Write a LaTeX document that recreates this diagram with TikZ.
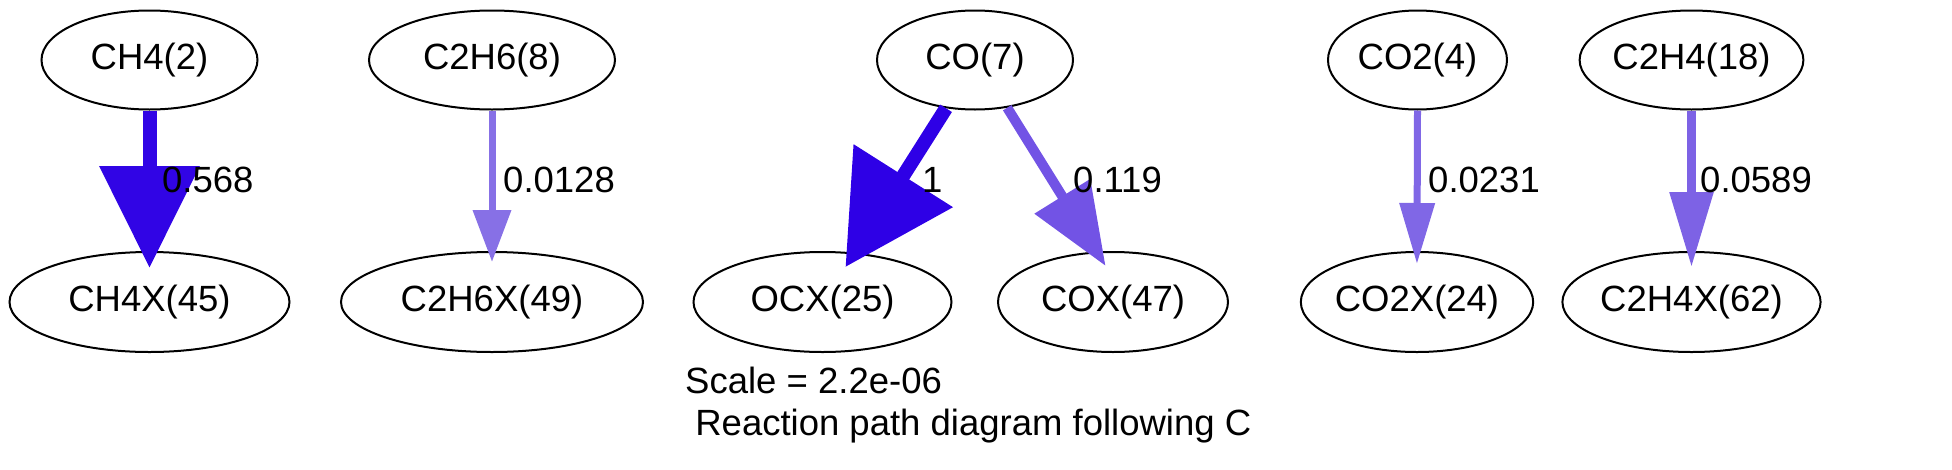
\documentclass[tikz,border=0pt]{standalone}
\usepackage{fontspec}
\setmainfont{Liberation Sans}
\usetikzlibrary{arrows.meta,shapes.geometric}
\definecolor{fa}{RGB}{46,0,230}
\definecolor{fb}{RGB}{49,4,229}
\definecolor{fc}{RGB}{135,112,230}
\definecolor{fd}{RGB}{128,103,230}
\definecolor{fe}{RGB}{125,98,229}
\definecolor{ff}{RGB}{114,83,229}
\tikzset{
  sp/.style={draw=black, line width=2pt, ellipse, inner sep=0pt, minimum height=99pt,
    font=\fontsize{36.5}{42}\selectfont},
  lbl/.style={anchor=west, inner sep=0pt, font=\fontsize{36.5}{42}\selectfont},
  flux/.style={draw=#1, fill=#1},
}
\begin{document}
\begin{tikzpicture}[x=1pt,y=-1pt]
\useasboundingbox (0,0) rectangle (1952,469);
% species
\node[sp, minimum width=216pt] (ch4) at (149.5,60) {CH4(2)};
\node[sp, minimum width=280pt, minimum height=100pt] (ch4x) at (149.5,302) {CH4X(45)};
\node[sp, minimum width=246pt] (c2h6) at (492,60) {C2H6(8)};
\node[sp, minimum width=302pt, minimum height=100pt] (c2h6x) at (492,302) {C2H6X(49)};
\node[sp, minimum width=196pt] (co) at (975,60) {CO(7)};
\node[sp, minimum width=258pt, minimum height=100pt] (ocx) at (822.5,302) {OCX(25)};
\node[sp, minimum width=230pt, minimum height=100pt] (cox) at (1113,302) {COX(47)};
\node[sp, minimum width=179pt] (co2) at (1417.5,60) {CO2(4)};
\node[sp, minimum width=226pt, minimum height=100pt] (co2x) at (1417,302) {CO2X(24)};
\node[sp, minimum width=219pt] (c2h4) at (1691.5,60) {C2H4(18)};
\node[sp, minimum width=245pt, minimum height=100pt] (c2h4x) at (1691.5,302) {C2H4X(62)};
% fluxes
\draw[flux=fb, line width=14pt, -{Triangle[length=102pt,width=97pt]}, shorten >=-17pt] (ch4.south) -- (ch4x.north);
\draw[flux=fc, line width=7pt, -{Triangle[length=52pt,width=37pt]}, shorten >=-11pt] (c2h6.south) -- (c2h6x.north);
\draw[flux=fa, line width=14pt, -{Triangle[length=108pt,width=114pt]}, shorten >=-17pt] (co.239) -- (ocx.57.6);
\draw[flux=ff, line width=10pt, -{Triangle[length=82pt,width=63pt]}, shorten >=-17pt] (co.304.5) -- (cox.108.8);
\draw[flux=fd, line width=7pt, -{Triangle[length=61pt,width=34pt]}, shorten >=-13pt] (co2.south) -- (co2x.north);
\draw[flux=fe, line width=9pt, -{Triangle[length=75pt,width=42pt]}, shorten >=-16pt] (c2h4.south) -- (c2h4x.north);
% labels
\node[lbl] (l1) at (162,180) {0.568};
\node[lbl] (l2) at (503,180) {0.0128};
\node[lbl] (l3) at (922,180) {1};
\node[lbl] (l4) at (1073,180) {0.119};
\node[lbl] (l5) at (1428,180) {0.0231};
\node[lbl] (l6) at (1700,180) {0.0589};
% caption
\node[anchor=base west, inner sep=0pt, font=\fontsize{36.5}{42}\selectfont] (cap1) at (685,393) {Scale = 2.2e-06};
\node[anchor=base west, inner sep=0pt, font=\fontsize{36.5}{42}\selectfont] (cap2) at (685,435) {\hspace*{0.278em}Reaction path diagram following C};
\end{tikzpicture}
\end{document}
